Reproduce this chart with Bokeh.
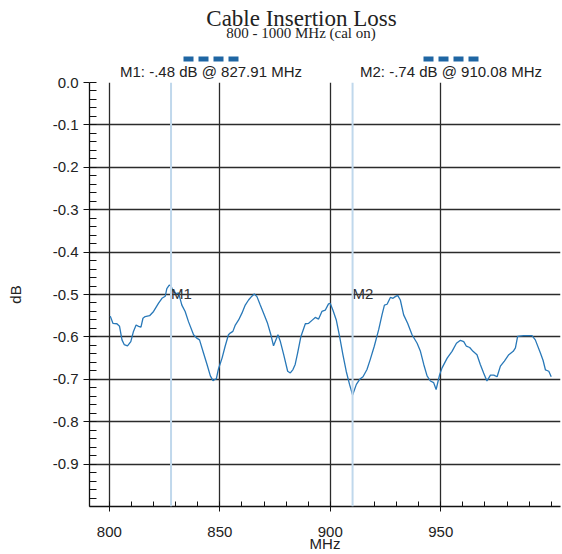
from bokeh.plotting import figure
from bokeh.models import (Range1d, FixedTicker, Span, ColumnDataSource, LinearAxis)
from bokeh.core.properties import value
from bokeh.embed import file_html
from bokeh.resources import INLINE

# ---------------- data ----------------
freq_mhz = [800.4, 801.6, 803.4, 804.6, 805.7, 806.7, 808.2, 809.7, 810.9, 812.1,
            813.2, 814.3, 815.2, 816.2, 818.2, 820.0, 822.2, 823.8, 825.3, 826.0,
            827.1, 827.9, 829.0, 830.3, 831.3, 832.8, 834.3, 835.8, 838.1, 839.6,
            840.8, 842.6, 844.2, 845.7, 846.9, 847.9, 848.4, 849.4, 851.0, 852.4,
            853.9, 854.7, 855.9, 857.0, 858.5, 860.0, 861.5, 863.0, 864.5, 865.6,
            866.8, 868.3, 869.8, 871.6, 873.1, 874.3, 875.4, 876.3, 877.4, 878.9,
            880.7, 881.9, 883.1, 884.1, 885.2, 886.7, 888.7, 890.2, 891.7, 893.2,
            894.7, 896.2, 897.7, 899.2, 900.0, 901.2, 902.7, 904.2, 905.7, 907.2,
            908.7, 910.1, 911.8, 913.3, 914.8, 916.6, 918.1, 919.9, 921.9, 923.4,
            924.5, 925.7, 927.2, 928.4, 929.4, 930.5, 931.7, 933.2, 935.0, 937.0,
            939.3, 940.8, 942.3, 943.8, 945.3, 946.8, 947.9, 949.5, 950.6, 952.9,
            955.1, 957.1, 958.9, 960.4, 961.6, 963.1, 964.6, 966.4, 967.9, 969.4,
            970.9, 972.5, 974.0, 975.5, 977.0, 978.8, 980.8, 982.8, 983.8, 984.8,
            987.5, 991.3, 992.8, 995.1, 996.3, 997.4, 998.9, 1000.0]
loss_db = [-0.551, -0.568, -0.569, -0.575, -0.607, -0.618, -0.621, -0.611, -0.587, -0.572,
           -0.575, -0.577, -0.556, -0.552, -0.550, -0.540, -0.521, -0.509, -0.504, -0.486,
           -0.478, -0.480, -0.494, -0.498, -0.496, -0.525, -0.540, -0.564, -0.595, -0.603,
           -0.607, -0.638, -0.665, -0.692, -0.703, -0.700, -0.699, -0.675, -0.650, -0.622,
           -0.595, -0.591, -0.587, -0.572, -0.560, -0.544, -0.525, -0.513, -0.504, -0.499,
           -0.505, -0.525, -0.544, -0.568, -0.595, -0.621, -0.607, -0.595, -0.611, -0.642,
           -0.681, -0.685, -0.677, -0.665, -0.638, -0.599, -0.569, -0.568, -0.561, -0.554,
           -0.558, -0.540, -0.537, -0.522, -0.521, -0.537, -0.560, -0.599, -0.642, -0.681,
           -0.712, -0.737, -0.712, -0.700, -0.694, -0.677, -0.653, -0.622, -0.583, -0.548,
           -0.525, -0.523, -0.507, -0.509, -0.505, -0.502, -0.513, -0.548, -0.568, -0.595,
           -0.615, -0.634, -0.665, -0.692, -0.704, -0.708, -0.724, -0.689, -0.673, -0.650,
           -0.634, -0.615, -0.608, -0.611, -0.622, -0.625, -0.634, -0.642, -0.665, -0.685,
           -0.704, -0.690, -0.690, -0.694, -0.669, -0.657, -0.642, -0.634, -0.626, -0.599,
           -0.597, -0.597, -0.607, -0.638, -0.655, -0.678, -0.681, -0.694]

marker_names = ["M1", "M2"]
marker_freq = [827.91, 910.08]
marker_db = [-0.48, -0.74]
marker_label_level = [-0.5, -0.5]

x_major_ticks = [800, 850, 900, 950]
x_minor_ticks = [790, 800, 810, 820, 830, 840, 850, 860, 870, 880, 890,
                 900, 910, 920, 930, 940, 950, 960, 970, 980, 990, 1000]
y_major_ticks = [0.0, -0.1, -0.2, -0.3, -0.4, -0.5, -0.6, -0.7, -0.8, -0.9]
y_tick_labels = ["0.0", "-0.1", "-0.2", "-0.3", "-0.4", "-0.5", "-0.6", "-0.7", "-0.8", "-0.9"]
y_minor_ticks = [round(-1.0 + 0.02 * i, 2) for i in range(51)]

title_text = "Cable Insertion Loss"
subtitle_text = "800 - 1000 MHz (cal on)"
x_label = "MHz"
y_label = "dB"


def fmt_db(v):
    s = f"{v:.2f}"
    return s.replace("0.", ".", 1)


legend_texts = [f"{n}: {fmt_db(d)} dB @ {f:.2f} MHz"
                for n, d, f in zip(marker_names, marker_db, marker_freq)]

# ---------------- styling ----------------
LINE_COLOR = "#2878b8"
GRID_COLOR = "#2b2b2b"
TEXT_COLOR = "#222222"
DASH_COLOR = "#1f66a3"
SANS = "Liberation Sans"
SERIF = "Liberation Serif"

FRAME_L, FRAME_R, FRAME_T, FRAME_B = 89, 560, 82, 510
W, H = 562, 554

p = figure(width=W, height=H, x_range=Range1d(791, 1004.2), y_range=Range1d(-1.0, 0.0),
           output_backend="svg", toolbar_location=None,
           min_border_left=FRAME_L, min_border_right=W - FRAME_R,
           min_border_top=FRAME_T, min_border_bottom=H - FRAME_B)
p.outline_line_color = None
p.background_fill_color = "white"
# pixel-coordinate range for header furniture laid out in the "above" panels
p.extra_x_ranges = {"px": Range1d(FRAME_L, FRAME_R)}

p.xaxis.ticker = FixedTicker(ticks=x_major_ticks, minor_ticks=x_minor_ticks)
p.yaxis.ticker = FixedTicker(ticks=y_major_ticks, minor_ticks=y_minor_ticks)
p.yaxis.major_label_overrides = {t: l for t, l in zip(y_major_ticks, y_tick_labels)}

for ax in (p.xaxis[0], p.yaxis[0]):
    ax.axis_line_color = "#111111"
    ax.axis_line_width = 1.3
    ax.major_tick_line_color = "#111111"
    ax.minor_tick_line_color = "#111111"
    ax.major_tick_in = 0
    ax.minor_tick_out = 0
    ax.major_label_text_font = SANS
    ax.major_label_text_font_size = "15px"
    ax.major_label_text_color = TEXT_COLOR
    ax.axis_label_text_font = SANS
    ax.axis_label_text_font_size = "15px"
    ax.axis_label_text_font_style = "normal"
    ax.axis_label_text_color = TEXT_COLOR

p.xaxis.major_tick_out = 5
p.xaxis.minor_tick_in = 5
p.xaxis.major_label_standoff = 15
p.xaxis.axis_label = x_label
p.xaxis.axis_label_standoff = -5

p.yaxis.major_tick_out = 6
p.yaxis.minor_tick_in = 7
p.yaxis.major_label_standoff = 5
p.yaxis.axis_label = y_label
p.yaxis.axis_label_standoff = 26

p.xgrid.grid_line_color = GRID_COLOR
p.xgrid.grid_line_width = 1.3
p.ygrid.grid_line_color = GRID_COLOR
p.ygrid.grid_line_width = 1.3

for f in marker_freq:
    p.add_layout(Span(location=f, dimension="height", line_color="#c0d8ec", line_width=2))

src = ColumnDataSource(dict(x=freq_mhz, y=loss_db))
p.line("x", "y", source=src, line_color=LINE_COLOR, line_width=1.3)

p.text(x=marker_freq, y=marker_label_level, text=marker_names, text_font=value(SANS),
       text_font_size="15px", text_baseline="alphabetic", text_align="left",
       y_offset=-1, text_color="#333333")


# ---------------- header: stacked unlabeled-axis rows ----------------
def header_row(center, text, font, size, standoff, minor=None):
    ax = LinearAxis(x_range_name="px",
                    ticker=FixedTicker(ticks=list(center), minor_ticks=minor or []),
                    major_label_overrides={c: t for c, t in zip(center, text)},
                    axis_line_color=None, major_tick_line_color=None,
                    major_tick_out=0, major_tick_in=0,
                    major_label_standoff=standoff, major_label_text_font=font,
                    major_label_text_font_size=size, major_label_text_color=TEXT_COLOR)
    if minor:
        # marker swatches drawn as short, thick minor ticks
        ax.minor_tick_line_color = DASH_COLOR
        ax.minor_tick_line_width = 10
        ax.minor_tick_in = 2
        ax.minor_tick_out = 3
    else:
        ax.minor_tick_line_color = None
    p.add_layout(ax, "above")
    return ax


legend_centers = [210.5, 450.5]
dash_offsets = [-22.5, -7.5, 7.5, 22.5]
dash_x = [c + o for c in legend_centers for o in dash_offsets]

header_row(legend_centers, legend_texts, SANS, "15px", 3)
header_row([300.5], [subtitle_text], SERIF, "15px", 16, minor=dash_x)
header_row([301.0], [title_text], SERIF, "23px", -9)

open("out.html", "w").write(file_html(p, INLINE))
